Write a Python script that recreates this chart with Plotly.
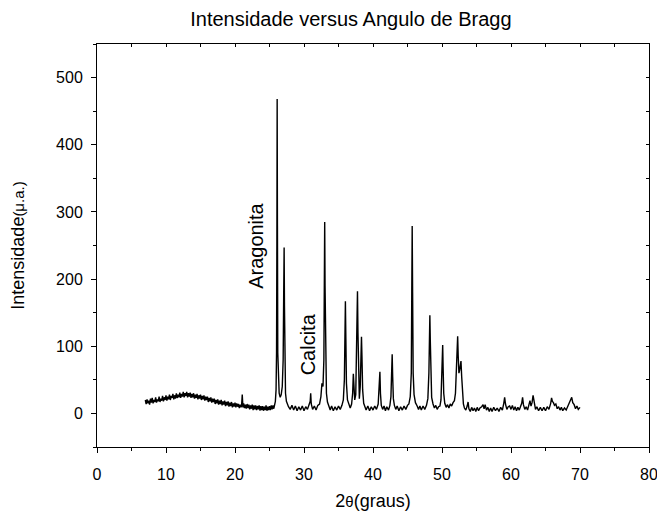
import plotly.graph_objects as go

two_theta = [
    7.000, 7.125, 7.250, 7.375, 7.500, 7.625, 7.750, 7.875,
    8.000, 8.125, 8.250, 8.375, 8.500, 8.625, 8.750, 8.875,
    9.000, 9.125, 9.250, 9.375, 9.500, 9.625, 9.750, 9.875,
    10.000, 10.125, 10.250, 10.375, 10.500, 10.625, 10.750, 10.875,
    11.000, 11.125, 11.250, 11.375, 11.500, 11.625, 11.750, 11.875,
    12.000, 12.125, 12.250, 12.375, 12.500, 12.625, 12.750, 12.875,
    13.000, 13.125, 13.250, 13.375, 13.500, 13.625, 13.750, 13.875,
    14.000, 14.125, 14.250, 14.375, 14.500, 14.625, 14.750, 14.875,
    15.000, 15.125, 15.250, 15.375, 15.500, 15.625, 15.750, 15.875,
    16.000, 16.125, 16.250, 16.375, 16.500, 16.625, 16.750, 16.875,
    17.000, 17.125, 17.250, 17.375, 17.500, 17.625, 17.750, 17.875,
    18.000, 18.125, 18.250, 18.375, 18.500, 18.625, 18.750, 18.875,
    19.000, 19.125, 19.250, 19.375, 19.500, 19.625, 19.750, 19.875,
    20.000, 20.125, 20.250, 20.375, 20.500, 20.625, 20.750, 20.875,
    20.950, 21.050, 21.150, 21.250, 21.375, 21.500, 21.625, 21.750, 21.875,
    22.000, 22.125, 22.250, 22.375, 22.500, 22.625, 22.750, 22.875,
    23.000, 23.125, 23.250, 23.375, 23.500, 23.625, 23.750, 23.875,
    24.000, 24.125, 24.250, 24.375, 24.500, 24.625, 24.750, 24.875,
    25.000, 25.125, 25.250, 25.375, 25.500, 25.625, 25.750,
    25.85, 25.95, 26.02, 26.07, 26.11, 26.15, 26.20, 26.28, 26.40, 26.55, 26.70, 26.85,
    26.98, 27.06, 27.12, 27.17, 27.23, 27.32, 27.45, 27.60, 27.75, 28.00, 28.25, 28.50,
    28.75, 29.00, 29.25, 29.50, 29.75, 30.00, 30.25, 30.50, 30.75, 30.90, 30.97, 31.05,
    31.25, 31.50, 31.75, 32.00, 32.25, 32.45, 32.60, 32.75, 32.88, 32.95, 33.00, 33.05,
    33.12, 33.25, 33.40, 33.60, 33.80, 34.00, 34.25, 34.50, 34.75, 35.00, 35.25, 35.50,
    35.70, 35.85, 35.95, 36.00, 36.07, 36.15, 36.30, 36.50, 36.70, 36.90, 37.05, 37.15,
    37.23, 37.35, 37.50, 37.62, 37.70, 37.75, 37.82, 37.92, 38.02, 38.15, 38.25, 38.33,
    38.40, 38.50, 38.65, 38.85, 39.00, 39.25, 39.50, 39.75, 40.00, 40.25, 40.50, 40.75,
    40.90, 41.00, 41.08, 41.20, 41.40, 41.60, 41.80, 42.00, 42.25, 42.45, 42.60, 42.72,
    42.78, 42.85, 42.95, 43.10, 43.30, 43.50, 43.75, 44.00, 44.25, 44.50, 44.75, 45.00,
    45.20, 45.40, 45.55, 45.62, 45.68, 45.74, 45.82, 45.95, 46.15, 46.40, 46.60, 46.80,
    47.00, 47.25, 47.50, 47.75, 47.95, 48.10, 48.18, 48.24, 48.30, 48.38, 48.50, 48.70,
    48.90, 49.10, 49.30, 49.50, 49.70, 49.85, 49.98, 50.06, 50.10, 50.16, 50.25, 50.40,
    50.60, 50.80, 51.00, 51.20, 51.40, 51.60, 51.80, 51.95, 52.10, 52.20, 52.27, 52.35,
    52.45, 52.55, 52.65, 52.75, 52.85, 52.95, 53.10, 53.25, 53.45, 53.65, 53.78, 53.90,
    54.10, 54.30, 54.50, 54.70, 54.90, 55.10, 55.30, 55.50, 55.75, 55.95, 56.10, 56.25,
    56.45, 56.65, 56.85, 57.05, 57.25, 57.50, 57.75, 58.00, 58.25, 58.50, 58.75, 58.95,
    59.08, 59.20, 59.40, 59.60, 59.80, 60.00, 60.20, 60.40, 60.60, 60.80, 61.00, 61.20,
    61.40, 61.55, 61.68, 61.80, 62.00, 62.20, 62.40, 62.60, 62.75, 62.90, 63.05, 63.20,
    63.35, 63.55, 63.75, 64.00, 64.25, 64.50, 64.75, 65.00, 65.25, 65.50, 65.75, 65.88,
    66.00, 66.15, 66.30, 66.50, 66.70, 66.90, 67.10, 67.30, 67.50, 67.75, 68.00, 68.25,
    68.50, 68.70, 68.80, 68.95, 69.15, 69.35, 69.55, 69.75, 70.00,
]

intensity = [
    20, 14, 21, 15, 19, 13, 22, 16,
    23, 15, 20, 17, 24, 16, 21, 18,
    25, 17, 22, 19, 26, 18, 24, 20,
    27, 19, 25, 21, 28, 20, 26, 23,
    29, 21, 27, 22, 30, 23, 28, 24,
    31, 23, 29, 25, 32, 24, 30, 26,
    32, 24, 30, 25, 31, 23, 29, 24,
    30, 22, 28, 23, 29, 21, 27, 22,
    28, 20, 26, 21, 27, 19, 25, 20,
    25, 17, 23, 18, 24, 16, 22, 17,
    22, 14, 20, 15, 21, 13, 19, 14,
    20, 12, 18, 13, 19, 11, 17, 12,
    18, 10, 16, 11, 17, 9, 15, 10,
    16, 9, 15, 10, 14, 8, 13, 9,
    11, 28, 9, 15, 8, 13, 7, 14, 8,
    13, 6, 12, 7, 13, 5, 12, 6,
    12, 5, 11, 6, 12, 4, 11, 5,
    11, 4, 10, 5, 12, 4, 10, 5,
    11, 5, 12, 6, 12, 7, 14,
    18, 35, 90, 250, 468, 280, 90, 45, 30, 24, 28, 40,
    80, 180, 247, 160, 60, 30, 18, 13, 10, 6, 12, 5,
    11, 4, 10, 5, 11, 4, 10, 6, 12, 18, 30, 14,
    6, 11, 5, 12, 14, 25, 45, 40, 80, 180, 285, 190,
    70, 30, 17, 11, 5, 11, 4, 10, 5, 11, 6, 12,
    20, 50, 130, 167, 110, 45, 20, 12, 8, 14, 30, 59,
    28, 20, 28, 80, 160, 182, 120, 40, 22, 40, 90, 114,
    85, 35, 15, 10, 5, 11, 4, 10, 5, 11, 6, 14,
    35, 62, 30, 12, 6, 11, 4, 10, 5, 12, 25, 60,
    88, 55, 22, 12, 6, 11, 4, 10, 5, 11, 6, 12,
    14, 25, 60, 180, 279, 180, 60, 28, 16, 11, 6, 11,
    5, 11, 6, 12, 22, 60, 120, 146, 110, 50, 24, 14,
    8, 12, 6, 10, 11, 20, 50, 90, 102, 70, 30, 15,
    9, 13, 8, 14, 11, 16, 19, 30, 70, 105, 115, 85,
    60, 64, 72, 78, 55, 30, 14, 8, 5, 11, 17, 7,
    3, 9, 4, 8, 3, 9, 4, 8, 10, 13, 7, 13,
    5, 9, 3, 8, 3, 9, 4, 8, 3, 9, 5, 15,
    24, 14, 6, 10, 11, 6, 12, 5, 10, 4, 9, 5,
    10, 15, 24, 13, 6, 10, 5, 12, 19, 11, 16, 27,
    14, 6, 10, 4, 9, 4, 9, 4, 10, 6, 15, 23,
    18, 16, 12, 14, 7, 10, 5, 9, 4, 8, 5, 11,
    15, 20, 24, 16, 13, 7, 11, 6, 9,
]

assert len(two_theta) == len(intensity)

x_ticks = [0, 10, 20, 30, 40, 50, 60, 70, 80]
y_ticks = [0, 100, 200, 300, 400, 500]

labels = ["Aragonita", "Calcita"]
label_x = [23.0, 30.6]
label_y = [249, 103]

FONT = "Liberation Sans, Arial, sans-serif"

fig = go.Figure()
fig.add_trace(go.Scatter(
    x=two_theta, y=intensity, mode="lines",
    line=dict(color="black", width=1.4),
    showlegend=False, hoverinfo="skip",
))
# empty trace to activate the top/right frame axes (inward ticks)
fig.add_trace(go.Scatter(x=[None], y=[None], xaxis="x2", yaxis="y2",
                         showlegend=False, hoverinfo="skip"))

for t, lx, ly in zip(labels, label_x, label_y):
    fig.add_annotation(x=lx, y=ly, text=t, showarrow=False, textangle=-90,
                       font=dict(family=FONT, size=20, color="black"),
                       xanchor="center", yanchor="middle")

axis_common = dict(showgrid=False, zeroline=False, linecolor="black", linewidth=1,
                   tickcolor="black", automargin=False, ticklabeloverflow="allow",
                   tickfont=dict(family=FONT, size=16, color="black"))

fig.update_layout(
    width=657, height=511,
    margin=dict(l=97, r=8, t=44, b=64),
    paper_bgcolor="white", plot_bgcolor="white",
    font=dict(family=FONT, color="black"),
    title=dict(text="Intensidade versus Angulo de Bragg",
               font=dict(family=FONT, size=20, color="black"),
               x=0.46, xref="paper", xanchor="center",
               y=1 - 19 / 511, yref="container", yanchor="middle"),
    xaxis=dict(range=[0, 80], tickvals=x_ticks, ticks="outside", ticklen=5,
               ticklabelstandoff=8,
               minor=dict(dtick=5, ticks="outside", ticklen=3, tickcolor="black"),
               showline=True,
               title=dict(text="2<span style='font-size:15px'>θ</span>(graus)",
                          font=dict(family=FONT, size=18, color="black"), standoff=16),
               **axis_common),
    yaxis=dict(range=[-50, 550], tickvals=y_ticks, ticks="outside", ticklen=5,
               ticklabelstandoff=5,
               minor=dict(dtick=50, ticks="outside", ticklen=3, tickcolor="black"),
               showline=True,
               title=dict(text="Intensidade<span style='font-size:15px'>(μ.a.)</span>",
                          font=dict(family=FONT, size=18, color="black"), standoff=26),
               **axis_common),
    xaxis2=dict(range=[0, 80], overlaying="x", side="top", dtick=5, ticks="inside",
                ticklen=3, tickcolor="black", showticklabels=False, showgrid=False,
                zeroline=False, showline=True, linecolor="black", linewidth=1,
                automargin=False),
    yaxis2=dict(range=[-50, 550], overlaying="y", side="right", dtick=50, ticks="inside",
                ticklen=3, tickcolor="black", showticklabels=False, showgrid=False,
                zeroline=False, showline=True, linecolor="black", linewidth=1,
                automargin=False),
)

fig.write_html("out.html", config={"displayModeBar": False},
               post_script="document.body.style.margin='0';")
